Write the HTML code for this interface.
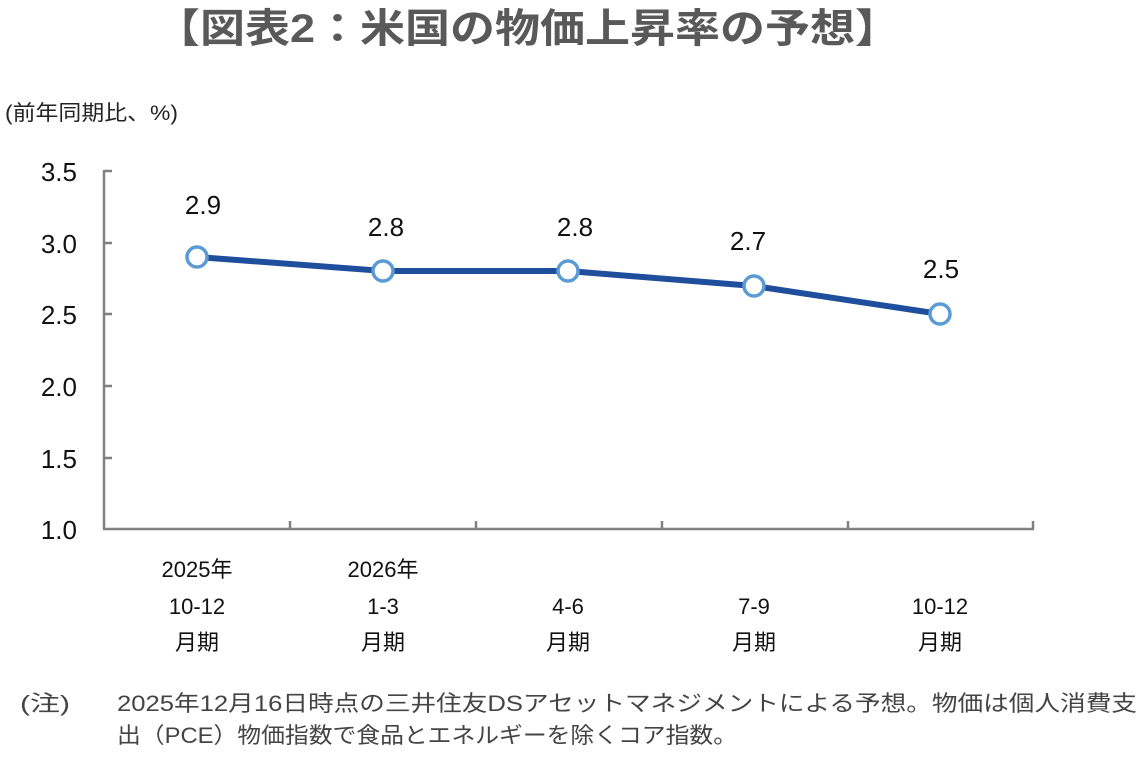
<!DOCTYPE html>
<html><head><meta charset="utf-8"><style>
html,body{margin:0;padding:0;background:#fff;}
svg{display:block;font-family:"Liberation Sans","Noto Sans CJK JP",sans-serif;}
</style></head><body>
<svg width="1148" height="775" viewBox="0 0 1148 775" xmlns="http://www.w3.org/2000/svg">
<text x="155" y="42" font-size="40" font-weight="bold" fill="#595959" textLength="745" lengthAdjust="spacingAndGlyphs">【図表2：米国の物価上昇率の予想】</text>
<text x="5" y="120" font-size="21" fill="#222" textLength="173" lengthAdjust="spacingAndGlyphs">(前年同期比、%)</text>
<g stroke="#808080" stroke-width="2.5" fill="none">
<line x1="104" y1="170" x2="104" y2="529"/>
<line x1="103" y1="529" x2="1034" y2="529"/>
<line x1="104" y1="171" x2="112" y2="171"/>
<line x1="104" y1="243" x2="112" y2="243"/>
<line x1="104" y1="314" x2="112" y2="314"/>
<line x1="104" y1="386" x2="112" y2="386"/>
<line x1="104" y1="458" x2="112" y2="458"/>
<line x1="290" y1="521" x2="290" y2="529"/>
<line x1="476" y1="521" x2="476" y2="529"/>
<line x1="662" y1="521" x2="662" y2="529"/>
<line x1="848" y1="521" x2="848" y2="529"/>
<line x1="1033" y1="521" x2="1033" y2="529"/>
</g>
<g font-size="26" fill="#111" text-anchor="end">
<text x="77" y="181">3.5</text>
<text x="77" y="253">3.0</text>
<text x="77" y="324">2.5</text>
<text x="77" y="396">2.0</text>
<text x="77" y="468">1.5</text>
<text x="77" y="539">1.0</text>
</g>
<polyline points="197,257 383,271 568,271 754,286 940,314" fill="none" stroke="#1F4E9C" stroke-width="6" stroke-linejoin="round"/>
<g fill="#fff" stroke="#5B9BD5" stroke-width="3.5">
<circle cx="197" cy="257" r="10"/>
<circle cx="383" cy="271" r="10"/>
<circle cx="568" cy="271" r="10"/>
<circle cx="754" cy="286" r="10"/>
<circle cx="940" cy="314" r="10"/>
</g>
<g font-size="26" fill="#111" text-anchor="middle">
<text x="203" y="214">2.9</text>
<text x="386" y="236">2.8</text>
<text x="575" y="236">2.8</text>
<text x="748" y="250">2.7</text>
<text x="941" y="278">2.5</text>
</g>
<g font-size="22" fill="#111" text-anchor="middle">
<text x="197" y="577">2025年</text>
<text x="197" y="614">10-12</text>
<text x="197" y="650">月期</text>
<text x="383" y="577">2026年</text>
<text x="383" y="614">1-3</text>
<text x="383" y="650">月期</text>
<text x="568" y="614">4-6</text>
<text x="568" y="650">月期</text>
<text x="754" y="614">7-9</text>
<text x="754" y="650">月期</text>
<text x="940" y="614">10-12</text>
<text x="940" y="650">月期</text>
</g>
<g font-size="22" fill="#444">
<text x="20" y="711" textLength="50" lengthAdjust="spacingAndGlyphs">(注)</text>
<text x="117" y="711" textLength="1020" lengthAdjust="spacingAndGlyphs">2025年12月16日時点の三井住友DSアセットマネジメントによる予想。物価は個人消費支</text>
<text x="117" y="743" textLength="620" lengthAdjust="spacingAndGlyphs">出（PCE）物価指数で食品とエネルギーを除くコア指数。</text>
</g>
</svg>
</body></html>
